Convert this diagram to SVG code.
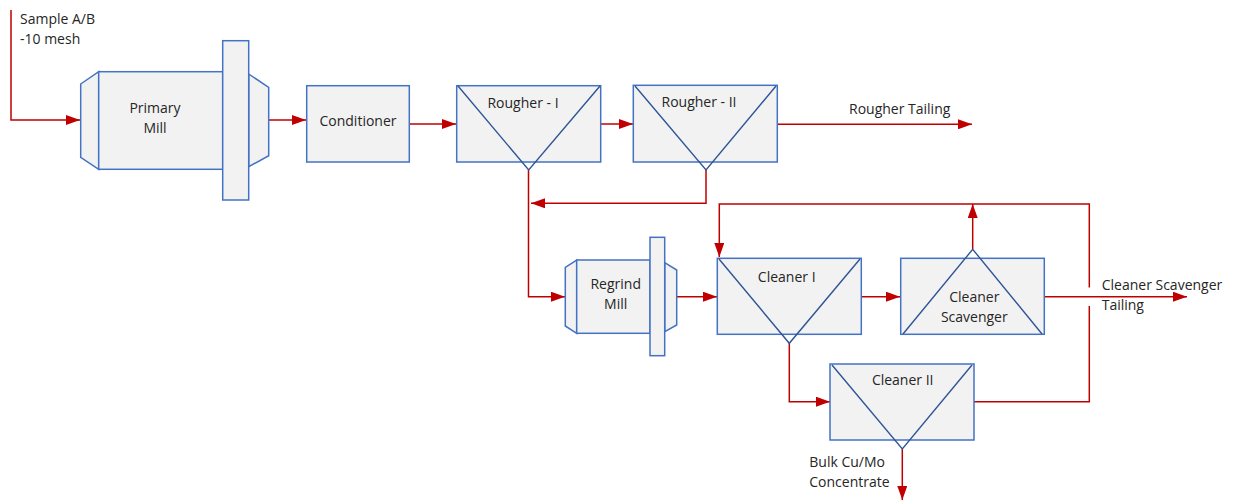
<svg xmlns="http://www.w3.org/2000/svg" width="1237" height="502" viewBox="0 0 1237 502">
<style>
.box{fill:#f2f2f2;stroke:#4472c4;stroke-width:1.5}
.tri{fill:none;stroke:#2f5597;stroke-width:1.4}
.flow{fill:none;stroke:#c00000;stroke-width:1.5}
.arr{marker-end:url(#ah)}
text{font-family:"Open Sans","Liberation Sans",sans-serif;font-size:14px;fill:#262626}
.c{text-anchor:middle}
</style>
<defs>
<marker id="ah" markerUnits="userSpaceOnUse" markerWidth="14" markerHeight="10" refX="14" refY="5" orient="auto">
<path d="M0,0 L14,5 L0,10 z" fill="#c00000"/>
</marker>
</defs>
<rect width="1237" height="502" fill="#ffffff"/>
<g id="connectors">
<path class="flow arr" d="M11,10 V120 H80"/>
<path class="flow arr" d="M269,120 H306"/>
<path class="flow arr" d="M409,124 H456"/>
<path class="flow arr" d="M601,124 H633"/>
<path class="flow arr" d="M777,124.3 H972"/>
<path class="flow arr" d="M706,170 V203.3 H531"/>
<path class="flow arr" d="M528.5,170 V296.7 H565"/>
<path class="flow arr" d="M677,296.7 H717"/>
<path class="flow arr" d="M861,296.7 H900"/>
<path class="flow arr" d="M1044,296.7 H1187"/>
<path class="flow arr" d="M972.7,249 V204"/>
<path class="flow" d="M974,401.7 H1089.3 V306"/>
<path class="flow arr" d="M1089.3,287.5 V204 H719.3 V257"/>
<path class="flow arr" d="M789.3,343 V401.7 H830"/>
<path class="flow arr" d="M902.3,449 V500"/>
</g>
<g id="sample-label">
<text x="20" y="24">Sample A/B</text>
<text x="20" y="43.5">-10 mesh</text>
</g>
<g id="primary-mill">
<polygon class="box" points="80.7,84 98.7,71.7 98.7,169.3 80.7,157.3"/>
<rect class="box" x="98.7" y="71.7" width="124" height="97.6"/>
<polygon class="box" points="248.7,74 268.7,87.3 268.7,155.7 248.7,166.7"/>
<rect class="box" x="222.7" y="40.7" width="26" height="159.3"/>
<text class="c" x="155" y="113">Primary</text>
<text class="c" x="155" y="133">Mill</text>
</g>
<g id="conditioner">
<rect class="box" x="306.7" y="85.7" width="102.6" height="76.3"/>
<text class="c" x="358" y="126">Conditioner</text>
</g>
<g id="rougher-1">
<rect class="box" x="456.7" y="85.7" width="144" height="76.3"/>
<polyline class="tri" points="458,86 528.7,170 600,86"/>
<text class="c" x="523" y="108.3">Rougher - I</text>
</g>
<g id="rougher-2">
<rect class="box" x="633.3" y="85.3" width="144" height="76.7"/>
<polyline class="tri" points="635,86 706,170 776,86"/>
<text class="c" x="699" y="106.5">Rougher - II</text>
</g>
<g id="rougher-tailing-label">
<text x="849" y="113.5">Rougher Tailing</text>
</g>
<g id="regrind-mill">
<polygon class="box" points="565.3,267.3 576.7,260 576.7,333.3 565.3,326"/>
<rect class="box" x="576.7" y="260" width="73.3" height="73.3"/>
<polygon class="box" points="664.7,262.7 676.7,270 676.7,325 664.7,331.7"/>
<rect class="box" x="650" y="237.3" width="14.7" height="118.4"/>
<text class="c" x="615.7" y="289.3">Regrind</text>
<text class="c" x="615.7" y="309.3">Mill</text>
</g>
<g id="cleaner-1">
<rect class="box" x="717.3" y="258.3" width="144" height="76"/>
<polyline class="tri" points="719,259 789.3,343.3 860,259"/>
<text class="c" x="786.7" y="281.7">Cleaner I</text>
</g>
<g id="cleaner-scavenger">
<rect class="box" x="900.7" y="258.3" width="143.6" height="76"/>
<polyline class="tri" points="903,334 972.7,249.3 1042,334"/>
<text class="c" x="974.3" y="301.7">Cleaner</text>
<text class="c" x="974.3" y="321.7">Scavenger</text>
</g>
<g id="cleaner-scavenger-tailing-label">
<text x="1101.7" y="290">Cleaner Scavenger</text>
<text x="1101.7" y="310">Tailing</text>
</g>
<g id="cleaner-2">
<rect class="box" x="830" y="364" width="144" height="76"/>
<polyline class="tri" points="832,365 902.3,449 972,365"/>
<text class="c" x="902.7" y="385">Cleaner II</text>
</g>
<g id="concentrate-label">
<text x="809.3" y="467.3">Bulk Cu/Mo</text>
<text x="809.3" y="487.3">Concentrate</text>
</g>
</svg>
